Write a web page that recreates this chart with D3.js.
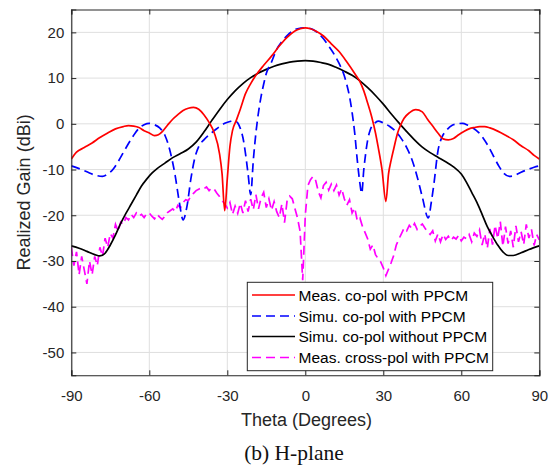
<!DOCTYPE html>
<html><head><meta charset="utf-8">
<script src="https://cdn.jsdelivr.net/npm/d3@7"></script>
<style>body{margin:0;background:#fff}svg{display:block}</style>
</head><body>
<svg id="c" width="557" height="470"></svg>
<script>
const xTicks = [-90,-60,-30,0,30,60,90];
const yTicks = [20,10,0,-10,-20,-30,-40,-50];

const measCoTheta = [-90,-88,-85,-82,-79,-76,-73,-70,-68,-66,-64,-62,-60,-58,-56.5,-55,-53,-51,-49,-47,-45,-43,-41,-39,-37,-35,-33,-32,-31,-30,-29,-28,-26.5,-25,-23,-21,-19,-16,-13,-10,-7,-4,-2,0,2,4,7,10,13,16,19,21,22.5,24,25.5,27,28,29.5,31,32,33,34,35.5,36.5,38,40,42.5,45,47,49,51,53,55,57,59,61,63,65,67,69,71,74,77,80,83,86,88,90];
const measCoGain = [-7.7,-6.2,-5.2,-4.2,-3.0,-2.0,-1.1,-0.6,-0.4,-0.5,-0.8,-1.5,-2.0,-2.6,-2.4,-1.7,-0.3,1.0,2.0,2.9,3.4,3.6,3.2,2.0,0.3,-2.0,-6.5,-11,-19,-12,-5,-1.5,0.8,3.2,6.6,8.8,10.6,12.8,14.8,17.0,18.9,20.3,20.8,21.0,20.8,20.3,19.2,17.5,15.8,13.5,11.0,9.2,7.2,4.5,1.6,-2.0,-5.0,-10,-17,-11,-8,-5.5,-2.0,-0.5,1.2,2.4,3.1,2.6,1.0,-0.5,-2.0,-3.3,-3.5,-3.2,-2.4,-1.7,-1.1,-0.8,-0.6,-0.6,-0.9,-1.6,-2.5,-3.5,-4.8,-5.9,-6.9,-7.7];

const simCoTheta = [-90,-87,-84,-81,-78,-76,-74,-72,-70,-68,-66,-64,-62,-60,-58,-56,-54,-52,-50,-48.5,-47,-45.5,-44,-42.5,-41,-39,-37,-35,-33,-31,-29,-27.5,-26,-25,-24,-23,-22,-21,-20,-19,-18,-17,-16,-15,-13,-11,-9,-7,-5,-3,0,3,5,7,9,11,13,15,16,17,18,19,20,21,21.7,22.5,23,24,25,26.5,28,30,32.5,35,37,39,41,43,45,47.3,48.5,49.5,51,52.5,54.5,56.5,58.5,60.5,62.5,64.5,66.5,68.5,70.5,72.5,74.5,76.5,78.5,80.5,83,86,88,90];
const simCoGain = [-9.2,-9.8,-10.5,-11.2,-11.5,-11.0,-10.0,-8.3,-6.3,-4.3,-2.5,-1.0,-0.2,0.1,-0.2,-0.9,-2.5,-6.0,-11.5,-17,-21,-18,-12,-7.5,-5,-3.5,-2.4,-1.5,-0.6,0.1,0.5,0.7,0.2,-1.0,-3.0,-6.5,-11,-15.5,-8,-2,2.5,6,8.7,11,13.5,16.3,18,19.3,20.3,20.8,21,20.6,19.8,18.6,17,15.3,13.2,10.5,8.5,6,2.5,-2,-8,-13,-15.2,-10,-7.5,-3.5,-1.3,0,0.6,0.2,-0.6,-1.8,-3.3,-5.2,-7.8,-11.5,-16,-20.6,-17,-13,-6,-3,-1.3,-0.3,0,0.1,-0.3,-0.9,-1.8,-3.2,-5,-7.2,-9.3,-10.9,-11.5,-11.3,-10.6,-9.9,-9.5,-9.2];

const simNoTheta = [-90,-87,-84,-81,-79,-77,-75,-73,-71,-69,-67,-65,-63,-61,-59,-57,-54,-51,-48,-45,-42,-39,-36,-33,-30,-27,-24,-21,-18,-15,-12,-9,-6,-3,0,3,6,9,12,15,18,21,24,27,30,33,36,39,42,45,48,51,54,57,60,62,64,66,68,70,72,74,76,78,80,83,86,90];
const simNoGain = [-26.7,-27.2,-27.9,-28.6,-28.9,-28.3,-26.5,-24.3,-21.8,-19.6,-17.6,-15.6,-13.6,-12.1,-10.8,-9.8,-8.6,-7.4,-6.5,-5.5,-4.0,-1.8,0.7,3.1,5.3,7.2,8.8,10.1,11.1,11.9,12.6,13.1,13.5,13.7,13.8,13.7,13.4,13.0,12.3,11.5,10.6,9.4,7.9,6.2,4.3,2.2,0.2,-1.7,-3.5,-5.1,-6.3,-7.3,-8.3,-9.4,-11.0,-12.8,-15.0,-17.2,-19.8,-22.5,-24.6,-26.5,-28.0,-28.8,-28.8,-28.2,-27.5,-26.7];

const crossTheta = d3.range(-90, 91, 1);
const crossGain = [-27,-31,-28,-33,-29,-32,-35,-30,-33,-29,-31,-27,-29,-25,-27,-24,-25,-22,-23.5,-21.5,-22,-20.5,-21,-19.8,-20.5,-19.5,-20.2,-19.8,-20.5,-19.6,-19.5,-20.2,-20.8,-19.8,-20.4,-20.9,-20.2,-19.4,-19,-18.6,-19.2,-17.8,-18.4,-17.2,-16.6,-16.8,-15.8,-15.2,-14.6,-14.3,-14.0,-14.2,-13.8,-14.6,-14.0,-14.3,-15.2,-15.9,-16.8,-17.5,-18.4,-17.2,-19.8,-18.0,-19.6,-17.4,-19.5,-16.8,-19.2,-16.5,-18.8,-15.5,-18.6,-16.2,-15.0,-18.3,-16.4,-18.9,-17.0,-19.2,-20.5,-17.5,-21.6,-16.8,-15.8,-16.4,-18.5,-20.6,-23.5,-34.2,-20.0,-13.5,-12.2,-11.5,-12.4,-14.8,-16.2,-13.5,-12.8,-14.5,-13.2,-14.6,-13.4,-15.6,-14.2,-16.4,-17.8,-16.6,-19.5,-18.4,-21.2,-20.6,-22.5,-23.8,-25.2,-27.4,-26.5,-28.6,-29.5,-30.2,-31.5,-33.2,-31.8,-30.4,-28.8,-26.5,-25.2,-24.0,-22.8,-23.4,-22.2,-22.9,-21.8,-23.1,-22.4,-21.9,-22.8,-23.6,-24.2,-23.4,-25.6,-24.1,-25.8,-24.2,-25.3,-24.6,-25.5,-24.8,-25.2,-24.4,-25.6,-24.8,-25.1,-24.2,-25.8,-23.9,-24.6,-23.2,-26.5,-24.1,-27.2,-23.0,-26.4,-22.2,-25.1,-21.4,-26.8,-22.5,-26.2,-23.4,-27.0,-22.3,-25.8,-23.6,-26.4,-22.0,-25.0,-23.1,-26.6,-24.2,-25.4];

const seriesNames = ["Meas. co-pol with PPCM","Simu. co-pol with PPCM","Simu. co-pol without PPCM","Meas. cross-pol with PPCM"];

const svg = d3.select("#c");
const L = 71.3, R = 539.3, T = 9.5, B = 375.3;
const x = d3.scaleLinear().domain([-90,90]).range([L,R]);
const y = d3.scaleLinear().domain([-55,25]).range([B,T]);
const axisColor = "#262626";
const font = "'Liberation Sans', Arial, Helvetica, sans-serif";
const fmt = d => String(d);

const g = svg.append("g");
g.selectAll("line.gx").data(xTicks).join("line")
  .attr("x1", d=>x(d)).attr("x2", d=>x(d)).attr("y1", T).attr("y2", B)
  .attr("stroke", "#dfdfdf").attr("stroke-width", 1);
g.selectAll("line.gy").data(yTicks).join("line")
  .attr("y1", d=>y(d)).attr("y2", d=>y(d)).attr("x1", L).attr("x2", R)
  .attr("stroke", "#dfdfdf").attr("stroke-width", 1);

const tk = 5;
const xAxisB = d3.axisBottom(x).tickValues(xTicks).tickSize(-tk).tickPadding(0).tickFormat(fmt);
const xAxisT = d3.axisTop(x).tickValues(xTicks).tickSize(-tk).tickFormat("");
const yAxisL = d3.axisLeft(y).tickValues(yTicks).tickSize(-tk).tickPadding(7).tickFormat(fmt);
const yAxisR = d3.axisRight(y).tickValues(yTicks).tickSize(-tk).tickFormat("");

function styleAxis(sel){
  sel.select(".domain").attr("stroke", axisColor).attr("stroke-width", 1.1);
  sel.selectAll(".tick line").attr("stroke", axisColor).attr("stroke-width", 1);
  sel.selectAll(".tick text").attr("fill", axisColor).style("font-family", font).style("font-size", "15px");
}

const lineGen = (xs, ys) => d3.line().x((d,i)=>x(xs[i])).y((d,i)=>y(ys[i])).curve(d3.curveMonotoneX)(xs);

svg.append("clipPath").attr("id","pc").append("rect")
  .attr("x", L).attr("y", T).attr("width", R-L).attr("height", B-T);
const plot = svg.append("g").attr("clip-path","url(#pc)");

const lw = 1.7;
const dash = "9,5";
plot.append("path").attr("d", d3.line().x((d,i)=>x(crossTheta[i])).y((d,i)=>y(crossGain[i]))(crossTheta))
  .attr("fill","none").attr("stroke","#ff00ff").attr("stroke-width",lw).attr("stroke-dasharray",dash);
plot.append("path").attr("d", lineGen(simNoTheta, simNoGain))
  .attr("fill","none").attr("stroke","#000").attr("stroke-width",lw);
plot.append("path").attr("d", lineGen(simCoTheta, simCoGain))
  .attr("fill","none").attr("stroke","#0000ff").attr("stroke-width",lw).attr("stroke-dasharray",dash);
plot.append("path").attr("d", lineGen(measCoTheta, measCoGain))
  .attr("fill","none").attr("stroke","#ff0000").attr("stroke-width",lw);

const xb = svg.append("g").attr("transform",`translate(0,${B})`).call(xAxisB).call(styleAxis);
xb.selectAll(".tick text").attr("y", 26).attr("dy", null);
svg.append("g").attr("transform",`translate(0,${T})`).call(xAxisT).call(styleAxis);
svg.append("g").attr("transform",`translate(${L},0)`).call(yAxisL).call(styleAxis);
svg.append("g").attr("transform",`translate(${R},0)`).call(yAxisR).call(styleAxis);

svg.append("text").attr("x", 306.5).attr("y", 425.7).attr("text-anchor","middle")
  .attr("fill", axisColor).style("font-family", font).style("font-size","18px").text("Theta (Degrees)");
svg.append("text").attr("transform",`translate(30,${(T+B)/2}) rotate(-90)`).attr("text-anchor","middle")
  .attr("fill", axisColor).style("font-family", font).style("font-size","18px").text("Realized Gain (dBi)");
svg.append("text").attr("x", 294).attr("y", 460).attr("text-anchor","middle")
  .attr("fill", "#111").style("font-family","'Liberation Serif','Times New Roman',serif").style("font-size","21.5px").text("(b) H-plane");

const lg = svg.append("g");
lg.append("rect").attr("x",247.3).attr("y",282.3).attr("width",245.4).attr("height",88.4)
  .attr("fill","#fff").attr("stroke",axisColor).attr("stroke-width",1);
const colors = ["#ff0000","#0000ff","#000000","#ff00ff"];
const dashes = [null, dash, null, dash];
const ly = [295, 316, 336.5, 357.5];
seriesNames.forEach((n,i)=>{
  lg.append("line").attr("x1",252).attr("x2",295).attr("y1",ly[i]).attr("y2",ly[i])
    .attr("stroke",colors[i]).attr("stroke-width",lw).attr("stroke-dasharray",dashes[i]);
  lg.append("text").attr("x",298.5).attr("y",ly[i]).attr("dy","0.36em")
    .attr("fill","#000").style("font-family",font).style("font-size","15.5px").text(n);
});
</script>
</body></html>
